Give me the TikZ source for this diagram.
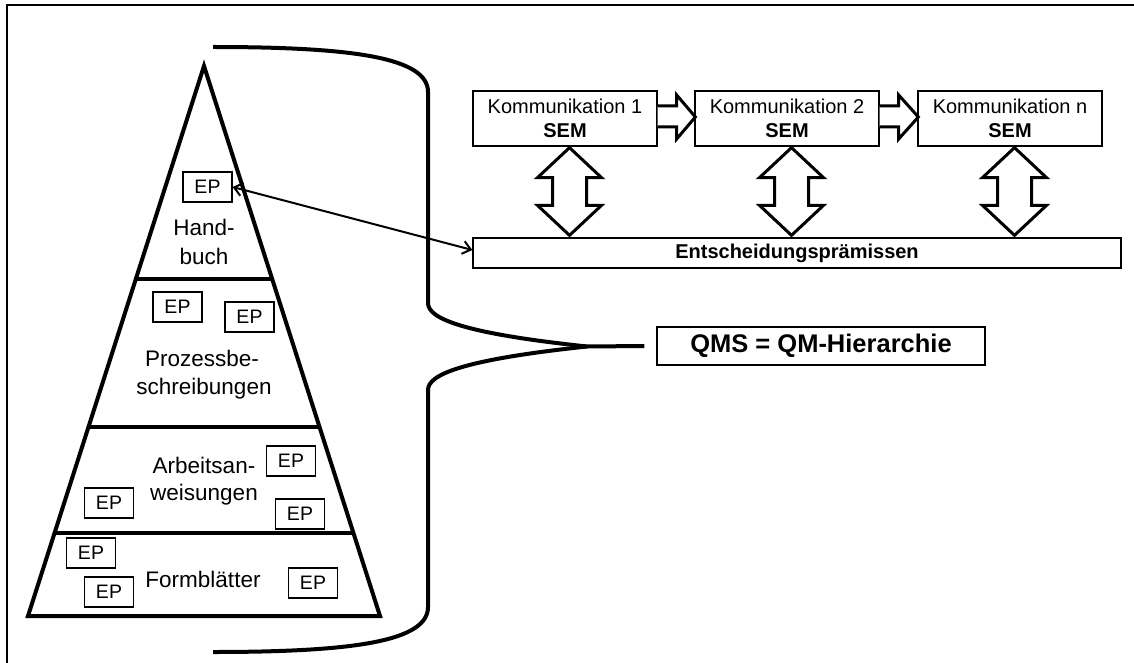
\documentclass[tikz,border=0pt]{standalone}
\usepackage{fontspec}
\setmainfont{Liberation Sans}
\usetikzlibrary{calc,arrows.meta}
\begin{document}
\begin{tikzpicture}[x=1pt,y=-1pt,
  epbox/.style={draw, line width=1.2pt, minimum width=49pt, minimum height=30pt, inner sep=0pt, font=\fontsize{19.5}{23}\selectfont},
  lbl/.style={anchor=base, inner sep=0pt, font=\fontsize{22.5}{27}\selectfont},
  kbox/.style={draw, line width=1.3pt, minimum width=184pt, minimum height=55pt, inner sep=0pt, align=center, font=\fontsize{20}{24}\selectfont},
  widebox/.style={draw, line width=1.3pt, inner sep=0pt},
  heavy/.style={line width=4pt},
  hollow/.style={draw, line width=3pt, line join=miter, fill=white},
  barb/.tip={Straight Barb[length=8pt,width=13pt]}
]
\useasboundingbox (0,0) rectangle (1134,663);
% frame (top and left visible)
\draw[line width=2pt] (7,663) -- (7,5.5) -- (1134,5.5);

% pyramid
\coordinate (apex) at (204,66);
\coordinate (bl) at (28,616);
\coordinate (br) at (380,616);
\draw[heavy, line join=miter] (apex) -- (br) -- (bl) -- cycle;
\foreach \f in {0.3873,0.6564,0.8491}
  \draw[heavy] ($(apex)!\f!(bl)$) -- ($(apex)!\f!(br)$);

% level labels
\node[lbl] (hb1) at (204,235) {Hand-};
\node[lbl] (hb2) at (204,264) {buch};
\node[lbl] (pb1) at (202,366) {Prozessbe-};
\node[lbl] (pb2) at (204,394) {schreibungen};
\node[lbl] (aa1) at (204,473) {Arbeitsan-};
\node[lbl] (aa2) at (204,500) {weisungen};
\node[lbl] (fb) at (203,587) {Formblätter};

% EP boxes
\node[epbox] (ep1) at (207.5,187) {EP};
\node[epbox] (ep2) at (177.5,307) {EP};
\node[epbox] (ep3) at (249.5,317) {EP};
\node[epbox] (ep4) at (291,461) {EP};
\node[epbox] (ep5) at (109,503) {EP};
\node[epbox] (ep6) at (300,514) {EP};
\node[epbox] (ep7) at (91,553) {EP};
\node[epbox] (ep8) at (109,592) {EP};
\node[epbox] (ep9) at (313,583) {EP};

% QMS box and brace
\node[widebox, minimum width=328pt, minimum height=38pt, font=\fontsize{25.5}{30}\selectfont\bfseries] (qms) at (821,346) {QMS = QM-Hierarchie};
\coordinate (tip) at ($(qms.west)+(-12,0)$);
\draw[heavy] (213,47) .. controls (355,47) and (428,58) .. (428,92) -- (428,303)
  .. controls (428,318) and (460,333) .. (587,346.5) -- (tip);
\draw[heavy] (587,346.5) .. controls (460,360) and (428,375) .. (428,390) -- (428,607)
  .. controls (428,641) and (355,652) .. (213,652);

% communication boxes
\node[kbox] (k1) at (565,118.5) {Kommunikation 1\\\textbf{SEM}};
\node[kbox] (k2) at (787,118.5) {Kommunikation 2\\\textbf{SEM}};
\node[kbox] (k3) at (1010,118.5) {Kommunikation n\\\textbf{SEM}};

% decision premises box
\node[widebox, minimum width=648pt, minimum height=30pt, font=\fontsize{20}{24}\selectfont\bfseries] (ent) at (797,253) {Entscheidungsprämissen};

% hollow right arrows
\foreach \a/\b in {k1/k2,k2/k3}
  \draw[hollow] ($(\a.east)+(0,-12.5)$) -- ($(\a.east)+(19,-12.5)$) -- ($(\a.east)+(19,-23.5)$)
    -- ($(\b.west)+(1,-1.5)$) -- ($(\a.east)+(19,20.5)$) -- ($(\a.east)+(19,8.5)$) -- ($(\a.east)+(0,8.5)$);

% hollow double arrows
\foreach \k in {k1,k2,k3} {
  \coordinate (t) at ($(\k.south)+(4.5,1)$);
  \coordinate (b) at ($(t |- ent.north)+(0,-2)$);
  \draw[hollow] (t) -- ($(t)+(32,30)$) -- ($(t)+(17,30)$) -- ($(b)+(17,-30)$) -- ($(b)+(32,-30)$)
    -- (b) -- ($(b)+(-32,-30)$) -- ($(b)+(-17,-30)$) -- ($(t)+(-17,30)$) -- ($(t)+(-32,30)$) -- cycle;
}

% link arrow
\draw[line width=2pt, barb-barb] (ep1.east) -- ([yshift=3pt]ent.west);
\end{tikzpicture}
\end{document}
